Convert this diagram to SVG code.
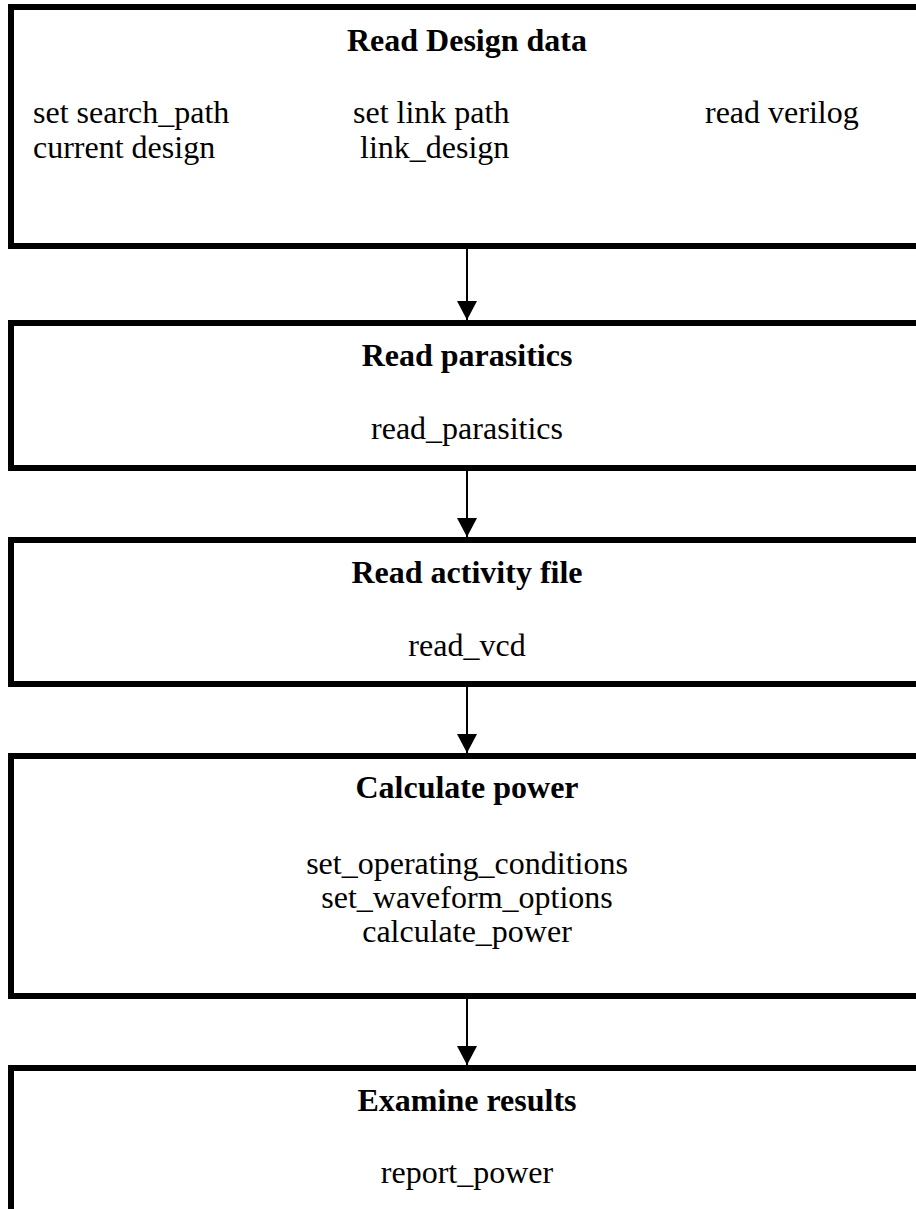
<svg xmlns="http://www.w3.org/2000/svg" width="916" height="1209" viewBox="0 0 916 1209">
  <style>
    .box { fill: #ffffff; stroke: #000000; stroke-width: 6; }
    .title { font-family: "Liberation Serif", "Times New Roman", serif; font-size: 32px; font-weight: bold; fill: #000000; text-anchor: middle; }
    .cmd { font-family: "Liberation Serif", "Times New Roman", serif; font-size: 32px; fill: #000000; }
    .mid { text-anchor: middle; }
    .flow { stroke: #000000; stroke-width: 2; fill: none; marker-end: url(#head); }
  </style>
  <defs>
    <marker id="head" markerUnits="userSpaceOnUse" markerWidth="20" markerHeight="20" refX="19" refY="10" orient="auto">
      <path d="M0,0 L19,10 L0,20 Z" fill="#000000"/>
    </marker>
  </defs>
  <rect x="0" y="0" width="916" height="1209" fill="#ffffff"/>

  <g id="read-design-data">
    <rect class="box" x="11" y="7" width="911" height="239"/>
    <text class="title" x="467" y="51">Read Design data</text>
    <text class="cmd" x="33" y="123">set search_path</text>
    <text class="cmd" x="33" y="158">current design</text>
    <text class="cmd" x="353" y="123">set link path</text>
    <text class="cmd" x="360" y="158">link_design</text>
    <text class="cmd" x="705" y="123">read verilog</text>
  </g>

  <g id="read-parasitics">
    <rect class="box" x="11" y="323" width="911" height="145"/>
    <text class="title" x="467" y="366">Read parasitics</text>
    <text class="cmd mid" x="467" y="439">read_parasitics</text>
  </g>

  <g id="read-activity-file">
    <rect class="box" x="11" y="540" width="911" height="144"/>
    <text class="title" x="467" y="583">Read activity file</text>
    <text class="cmd mid" x="467" y="656">read_vcd</text>
  </g>

  <g id="calculate-power">
    <rect class="box" x="11" y="756" width="911" height="240"/>
    <text class="title" x="467" y="798">Calculate power</text>
    <text class="cmd mid" x="467" y="874">set_operating_conditions</text>
    <text class="cmd mid" x="467" y="908">set_waveform_options</text>
    <text class="cmd mid" x="467" y="942">calculate_power</text>
  </g>

  <g id="examine-results">
    <rect class="box" x="11" y="1068" width="911" height="160"/>
    <text class="title" x="467" y="1111">Examine results</text>
    <text class="cmd mid" x="467" y="1183">report_power</text>
  </g>

  <g id="connectors">
    <line class="flow" x1="467" y1="249" x2="467" y2="320"/>
    <line class="flow" x1="467" y1="471" x2="467" y2="537"/>
    <line class="flow" x1="467" y1="687" x2="467" y2="753"/>
    <line class="flow" x1="467" y1="999" x2="467" y2="1065"/>
  </g>
</svg>
